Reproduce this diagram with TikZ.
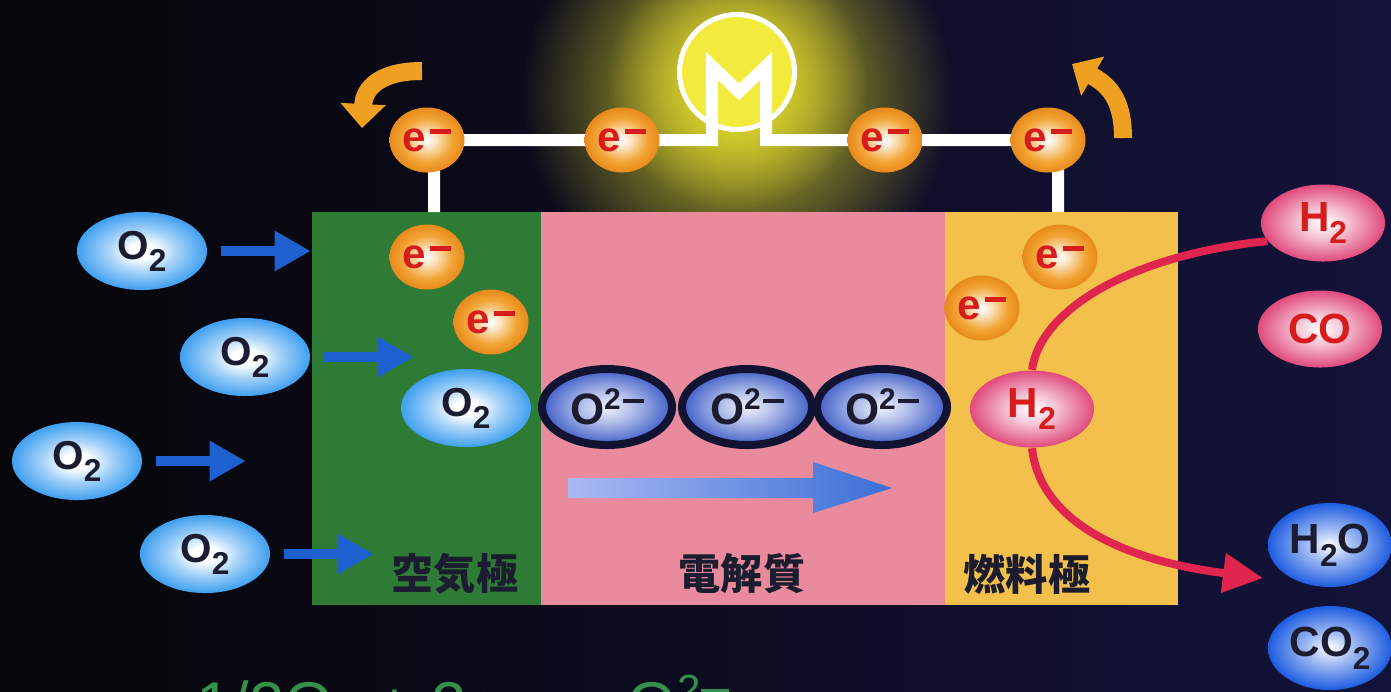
\documentclass[tikz,border=0pt]{standalone}
\usepackage{fontspec}
\setmainfont{Liberation Sans}
\newfontfamily\jp{Noto Sans CJK JP}
\usetikzlibrary{shapes.geometric,arrows.meta,fadings}

\definecolor{bgleft}{HTML}{060609}
\definecolor{bgright}{HTML}{13133A}
\definecolor{glowyellow}{HTML}{E8E030}
\definecolor{motoryellow}{HTML}{F2EA3C}
\definecolor{cathodegreen}{HTML}{2E7B35}
\definecolor{electrolytepink}{HTML}{E98B9C}
\definecolor{anodeyellow}{HTML}{F3C04C}
\definecolor{eorange}{HTML}{F2A434}
\definecolor{eedge}{HTML}{E8891C}
\definecolor{ered}{HTML}{D81C1C}
\definecolor{o2blue}{HTML}{3F9FF0}
\definecolor{ionblue}{HTML}{3F5EC8}
\definecolor{ionrim}{HTML}{121232}
\definecolor{fuelpink}{HTML}{E04A7C}
\definecolor{prodblue}{HTML}{1D5CE0}
\definecolor{feedblue}{HTML}{1E60D0}
\definecolor{flowred}{HTML}{E0264E}
\definecolor{turnorange}{HTML}{EFA020}
\definecolor{driftlight}{HTML}{A9B9F2}
\definecolor{driftdark}{HTML}{3B6FD6}
\definecolor{ink}{HTML}{1C1C30}
\definecolor{reactgreen}{HTML}{35904A}

% ball shadings for the particles
\pgfdeclareradialshading{eball}{\pgfpointorigin}{color(0bp)=(white); color(6bp)=(white!70!eorange); color(17bp)=(eorange); color(25bp)=(eedge); color(50bp)=(eedge)}
\pgfdeclareradialshading{o2ball}{\pgfpointorigin}{color(0bp)=(white); color(5bp)=(white); color(13bp)=(o2blue!45!white); color(25bp)=(o2blue); color(50bp)=(o2blue)}
\pgfdeclareradialshading{ionball}{\pgfpointorigin}{color(0bp)=(white!92!ionblue); color(10bp)=(ionblue!40!white); color(25bp)=(ionblue); color(50bp)=(ionblue)}
\pgfdeclareradialshading{fuelball}{\pgfpointorigin}{color(0bp)=(white); color(9bp)=(fuelpink!30!white); color(25bp)=(fuelpink); color(50bp)=(fuelpink)}
\pgfdeclareradialshading{prodball}{\pgfpointorigin}{color(0bp)=(white); color(9bp)=(prodblue!40!white); color(25bp)=(prodblue); color(50bp)=(prodblue)}
\tikzfading[name=glowfade, inner color=transparent!0, outer color=transparent!100]

\newcommand\lo[1]{\raisebox{-0.3em}{\fontsize{9}{9}\selectfont #1}}
\newcommand\el{e\hspace{1pt}\rule[5pt]{6pt}{1.2pt}}
\newcommand\oxm{\raisebox{4.3pt}{\fontsize{8.5}{8.5}\selectfont 2}\hspace{0.6pt}\rule[6.2pt]{6pt}{1.1pt}}

\tikzset{
	wire/.style={draw=white, line width=1.2mm, line join=miter},
	elec/.style={ellipse, shading=eball, minimum width=7.5mm, minimum height=6.5mm, inner sep=0pt, text=ered, font=\bfseries\fontsize{12}{12}\selectfont},
	gas/.style={ellipse, shading=o2ball, minimum width=13mm, minimum height=7.8mm, inner sep=0pt, text=ink, font=\bfseries\fontsize{11.5}{12}\selectfont},
	ion/.style={ellipse, shading=ionball, draw=ionrim, line width=0.8mm, minimum width=13mm, minimum height=7.6mm, inner sep=0pt, text=ink, font=\bfseries\fontsize{12.5}{13}\selectfont},
	fuel/.style={ellipse, shading=fuelball, minimum width=12.4mm, minimum height=7.7mm, inner sep=0pt, text=ered, font=\bfseries\fontsize{12}{12}\selectfont},
	prod/.style={ellipse, shading=prodball, minimum width=12.4mm, minimum height=8.4mm, inner xsep=-4pt, inner ysep=0pt, text=ink, font=\bfseries\fontsize{12}{12}\selectfont},
	feed/.style={draw=feedblue, line width=1mm, -{Triangle[length=3.6mm,width=3.8mm]}},
	flow/.style={draw=flowred, line width=0.8mm},
	turn/.style={draw=turnorange, line width=1.8mm, -{Triangle[length=2.4mm,width=4.4mm]}},
	celllabel/.style={text=ink, font=\jp\bfseries\fontsize{12}{12}\selectfont}
}

\begin{document}
\begin{tikzpicture}[x=0.1mm,y=-0.1mm]
	\useasboundingbox (0,0) rectangle (1391,691);
	\clip (0,0) rectangle (1391,691);
	\shade[left color=bgleft, right color=bgright] (0,0) rectangle (1391,691);
	
	% light around the motor
	\fill[glowyellow!80!olive, path fading=glowfade] (737,95) circle (215);
	\fill[glowyellow, path fading=glowfade] (737,80) circle (130);
	
	% the three layers of the cell
	\fill[cathodegreen] (312,212) rectangle (541,605);
	\fill[electrolytepink] (541,212) rectangle (945,605);
	\fill[anodeyellow] (945,212) rectangle (1178,605);
	\node[celllabel] (lcath) at (455,574) {空気極};
	\node[celllabel] (lelyt) at (742,574) {電解質};
	\node[celllabel] (lanod) at (1027,574) {燃料極};
	
	% outer circuit with the motor
	\coordinate (ctop) at (434,212);
	\coordinate (atop) at (1058,212);
	\node[circle, draw=white, line width=0.5mm, fill=motoryellow, minimum size=11.5mm, inner sep=0pt] (motor) at (737,72) {};
	\draw[wire] (ctop) |- (712,140) -- (712,66) -- (739,92) -- (766,66) -- (766,140) -| (atop);
	
	\foreach \n/\x in {1/427,2/622,3/885,4/1048}
	{
		\node[elec] (w\n) at (\x,140) {\el};
	}
	\node[elec] (c1) at (427,257) {\el};
	\node[elec] (c2) at (491,322) {\el};
	\node[elec] (a1) at (1060,257) {\el};
	\node[elec] (a2) at (982,308) {\el};
	
	\draw[turn] (422,71) .. controls (380,71) and (364,88) .. (362,128);
	\draw[turn] (1123,138) .. controls (1123,96) and (1106,84) .. (1072,64);
	
	% air side
	\foreach \n/\x/\y in {a/142/251,b/245/357,c/77/461,d/205/554}
	{
		\node[gas] (o2\n) at (\x,\y) {O\lo{2}};
		\draw[feed] ([xshift=1.3mm]o2\n.east) -- ++(90,0);
	}
	\node[gas] (o2in) at (466,408) {O\lo{2}};
	
	% oxide ions through the electrolyte
	\foreach \n/\x in {1/607,2/747,3/882}
	{
		\node[ion] (ion\n) at (\x,407) {O\oxm};
	}
	\shade[left color=driftlight, right color=driftdark] (568,478) -- (813,478) -- (813,462) -- (892,488) -- (813,513) -- (813,498) -- (568,498) -- cycle;
	
	% fuel side
	\node[fuel] (h2in) at (1032,409) {H\lo{2}};
	\node[fuel] (h2out) at (1323,223) {H\lo{2}};
	\node[fuel] (coout) at (1320,329) {CO};
	\node[prod] (h2o) at (1330,545) {H\lo{2}O};
	\node[prod] (co2) at (1330,648) {CO\lo{2}};
	\coordinate (exhaust) at (1263,578);
	\draw[flow] (h2out.198) .. controls (1130,255) and (1040,310) .. (h2in.north);
	\draw[flow, -{Triangle[length=4mm,width=3.8mm]}] (h2in.south) .. controls (1040,520) and (1120,560) .. (exhaust);
	
	\node[anchor=base west, text=reactgreen, font=\fontsize{18}{18}\selectfont] (react) at (184,726)
		{1/2O\raisebox{-5pt}{\fontsize{13}{13}\selectfont 2} + 2e\rule[8pt]{8pt}{1.6pt} → O\raisebox{6pt}{\fontsize{12}{12}\selectfont 2}\rule[9pt]{8pt}{1.5pt}};
\end{tikzpicture}
\end{document}
